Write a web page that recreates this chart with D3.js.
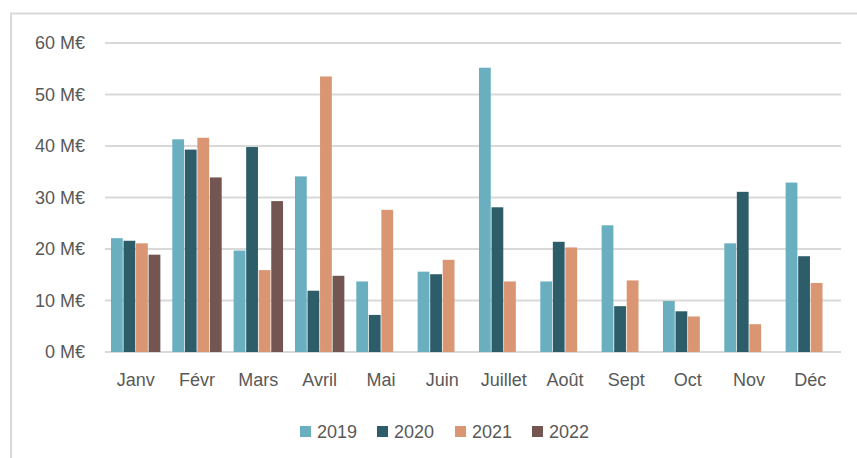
<!DOCTYPE html>
<html>
<head>
<meta charset="utf-8">
<script src="https://cdn.jsdelivr.net/npm/d3@7"></script>
<style>
  body { margin: 0; background: #fff; }
  svg { display: block; font-family: "Liberation Sans", Arial, sans-serif; }
</style>
</head>
<body>
<svg id="chart"></svg>
<script>
// months and yearly values (M€)
const months = ["Janv", "Févr", "Mars", "Avril", "Mai", "Juin", "Juillet", "Août", "Sept", "Oct", "Nov", "Déc"];
const years = ["2019", "2020", "2021", "2022"];
const v2019 = [22.1, 41.3, 19.7, 34.1, 13.7, 15.6, 55.2, 13.7, 24.6, 9.9, 21.1, 32.9];
const v2020 = [21.6, 39.3, 39.8, 11.9, 7.2, 15.1, 28.1, 21.4, 8.9, 7.9, 31.1, 18.6];
const v2021 = [21.1, 41.6, 15.9, 53.5, 27.6, 17.9, 13.7, 20.3, 13.9, 6.9, 5.4, 13.4];
const v2022 = [18.9, 33.9, 29.3, 14.8, null, null, null, null, null, null, null, null];
const yTicks = [0, 10, 20, 30, 40, 50, 60];
const colors = ["#6aafbf", "#2c5d69", "#da9672", "#735651"];

const width = 857, height = 458;
const margin = { top: 43, right: 16, bottom: 106, left: 105 };

const series = [v2019, v2020, v2021, v2022];
const rows = months.map((m, i) => ({ month: m, values: series.map((s, j) => ({ year: years[j], value: s[i] })) }));

const svg = d3.select("#chart").attr("width", width).attr("height", height);

// chart frame (only top and left edges visible in the crop)
svg.append("path")
    .attr("d", `M11,${height} L11,13.5 L${width},13.5`)
    .attr("fill", "none")
    .attr("stroke", "#d9d9d9")
    .attr("stroke-width", 2);

const x0 = d3.scaleBand().domain(months)
    .range([margin.left, width - margin.right])
    .paddingInner(0.17).paddingOuter(0.085);
const x1 = d3.scaleBand().domain(years).range([0, x0.bandwidth()]).padding(0.06);
const y = d3.scaleLinear().domain([0, 60]).range([height - margin.bottom, margin.top]);

// gridlines
svg.append("g")
    .selectAll("line")
    .data(yTicks)
    .join("line")
    .attr("x1", margin.left)
    .attr("x2", width - margin.right)
    .attr("y1", d => y(d))
    .attr("y2", d => y(d))
    .attr("stroke", "#d9d9d9")
    .attr("stroke-width", 2);

// y labels
svg.append("g")
    .selectAll("text")
    .data(yTicks)
    .join("text")
    .attr("x", 85)
    .attr("y", d => y(d))
    .attr("dy", "0.35em")
    .attr("text-anchor", "end")
    .attr("font-size", 18)
    .attr("fill", "#595959")
    .text(d => `${d} M€`);

// bars
svg.append("g")
    .selectAll("g")
    .data(rows)
    .join("g")
    .attr("transform", d => `translate(${x0(d.month)},0)`)
    .selectAll("rect")
    .data(d => d.values.filter(v => v.value != null))
    .join("rect")
    .attr("x", d => x1(d.year))
    .attr("y", d => y(d.value))
    .attr("width", x1.bandwidth())
    .attr("height", d => y(0) - y(d.value))
    .attr("fill", (d, i) => colors[years.indexOf(d.year)]);

// month labels
svg.append("g")
    .selectAll("text")
    .data(months)
    .join("text")
    .attr("x", d => x0(d) + x0.bandwidth() / 2)
    .attr("y", 386)
    .attr("text-anchor", "middle")
    .attr("font-size", 18)
    .attr("fill", "#595959")
    .text(d => d);

// legend
const legendX = [300, 377, 455, 532];
const legend = svg.append("g")
    .selectAll("g")
    .data(years)
    .join("g")
    .attr("transform", (d, i) => `translate(${legendX[i]},426)`);
legend.append("rect")
    .attr("width", 11).attr("height", 11)
    .attr("fill", (d, i) => colors[i]);
legend.append("text")
    .attr("x", 17)
    .attr("y", 5.5)
    .attr("dy", "0.36em")
    .attr("font-size", 18)
    .attr("fill", "#595959")
    .text(d => d);
</script>
</body>
</html>
